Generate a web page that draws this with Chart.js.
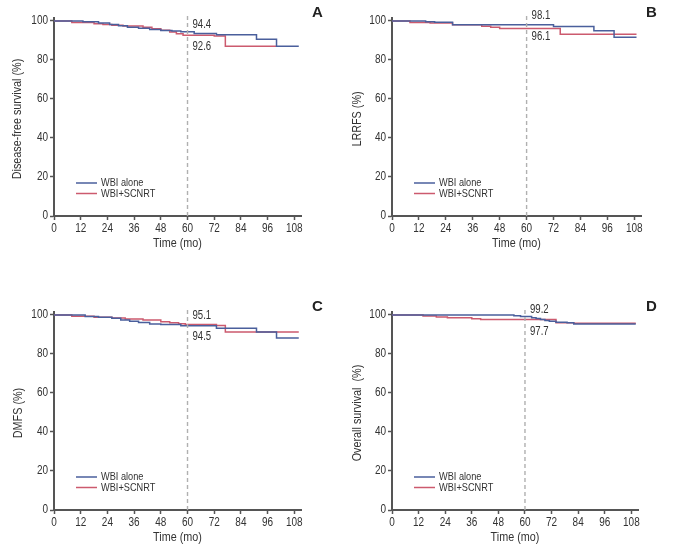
<!DOCTYPE html>
<html>
<head>
<meta charset="utf-8">
<script src="https://cdn.jsdelivr.net/npm/chart.js@4.4.1/dist/chart.umd.min.js"></script>
<style>
  body { margin: 0; background: #fff; width: 687px; height: 556px; position: relative; overflow: hidden; }
  canvas { position: absolute; }
  .tag { position: absolute; font: bold 15px "Liberation Sans", Arial, sans-serif; color: #222; }
</style>
</head>
<body>
<canvas id="cA" width="340" height="280" style="left:0;top:0"></canvas>
<canvas id="cB" width="347" height="280" style="left:340px;top:0"></canvas>
<canvas id="cC" width="340" height="280" style="left:0;top:294px"></canvas>
<canvas id="cD" width="347" height="280" style="left:340px;top:294px"></canvas>
<div class="tag" style="left:312px;top:3px">A</div>
<div class="tag" style="left:646px;top:3px">B</div>
<div class="tag" style="left:312px;top:297px">C</div>
<div class="tag" style="left:646px;top:297px">D</div>
<script>
// ---- data ----
const monthTicks = [0, 12, 24, 36, 48, 60, 72, 84, 96, 108];
const pctTicks = [0, 20, 40, 60, 80, 100];
const seriesNames = ["WBI alone", "WBI+SCNRT"];
const landmark = 60;

// A: disease-free survival
const dfsAloneT = [0, 13, 20, 25, 29, 33, 38, 43, 48, 53, 57, 63, 73, 91, 100, 110];
const dfsAloneS = [100, 99.6, 98.9, 98.2, 97.5, 96.8, 96.2, 95.6, 95.1, 94.8, 94.4, 93.6, 92.9, 90.6, 87.0, 87.0];
const dfsScnT = [0, 8, 18, 22, 26, 31, 40, 44, 48, 52, 55, 58, 72, 77, 100];
const dfsScnS = [100, 99.2, 98.6, 98.2, 97.8, 97.4, 96.8, 96.0, 95.2, 94.3, 93.4, 92.6, 92.3, 87.0, 87.0];
const dfsAt60 = ["94.4", "92.6"];

// B: LRRFS
const lrrAloneT = [0, 15, 19, 27, 72, 90, 99, 109];
const lrrAloneS = [100, 99.6, 99.3, 98.1, 97.1, 95.0, 91.6, 91.6];
const lrrScnT = [0, 8, 17, 27, 40, 44, 48, 75, 109];
const lrrScnS = [100, 99.2, 99.0, 98.1, 97.3, 96.7, 96.1, 93.2, 93.2];
const lrrAt60 = ["98.1", "96.1"];

// C: DMFS
const dmAloneT = [0, 14, 20, 26, 30, 34, 38, 43, 48, 57, 73, 91, 100, 110];
const dmAloneS = [100, 99.2, 98.8, 98.3, 97.4, 96.8, 96.1, 95.4, 95.1, 94.5, 93.2, 91.2, 88.2, 88.2];
const dmScnT = [0, 8, 18, 26, 32, 40, 48, 52, 56, 59, 73, 77, 110];
const dmScnS = [100, 99.3, 98.8, 98.4, 97.9, 97.4, 96.5, 96.0, 95.5, 95.1, 94.6, 91.3, 91.3];
const dmAt60 = ["95.1", "94.5"];

// D: overall survival
const osAloneT = [0, 55, 58, 63, 65, 67, 69, 71, 74, 79, 82, 110];
const osAloneS = [100, 99.6, 99.2, 98.6, 98.2, 97.7, 97.2, 96.7, 96.3, 96.0, 95.3, 95.3];
const osScnT = [0, 14, 20, 25, 36, 40, 74, 82, 110];
const osScnS = [100, 99.5, 99.0, 98.6, 98.1, 97.7, 96.0, 95.7, 95.7];
const osAt60 = ["99.2", "97.7"];

// ---- styles ----
const colors = ["#4a5f9c", "#cc5a6e"];
const fontFam = '"Liberation Sans", Arial, sans-serif';
const axisCol = "#555";
const squeeze = 0.8; // condensed look of the original type

function pts(t, s) {
    return t.map((x, i) => ({ x: x, y: s[i] }));
}

// draw text horizontally squeezed (the reference uses a narrow face)
function narrowText(ctx, text, x, y, align, rot) {
    ctx.save();
    ctx.translate(x, y);
    if (rot) ctx.rotate(rot);
    ctx.scale(squeeze, 1);
    ctx.textAlign = align;
    ctx.textBaseline = "middle";
    ctx.fillText(text, 0, 0);
    ctx.restore();
}

// tick labels, axis titles, dashed 60-month line, values at 60 and legend
const kmExtras = {
    id: "kmExtras",
    afterDraw(chart, args, opt) {
        const ctx = chart.ctx;
        const area = chart.chartArea;
        const xs = chart.scales.x;
        const ys = chart.scales.y;
        const px = xs.getPixelForValue(landmark);

        ctx.save();
        ctx.fillStyle = "#333";

        // tick labels
        ctx.font = "12.5px " + fontFam;
        monthTicks.forEach(v => narrowText(ctx, String(v), xs.getPixelForValue(v), area.bottom + 12.5, "center"));
        pctTicks.forEach(v => narrowText(ctx, String(v), area.left - 6, ys.getPixelForValue(v), "right"));

        // axis titles
        ctx.font = "13.5px " + fontFam;
        narrowText(ctx, "Time (mo)", (area.left + area.right) / 2, area.bottom + 27, "center");
        narrowText(ctx, opt.yTitle, area.left - opt.titleGap, (area.top + area.bottom) / 2 + 2, "center", -Math.PI / 2);

        // dashed landmark line
        ctx.strokeStyle = "#b0b0b0";
        ctx.lineWidth = 1.4;
        ctx.setLineDash([4, 3]);
        ctx.beginPath();
        ctx.moveTo(px, area.top - 2);
        ctx.lineTo(px, area.bottom);
        ctx.stroke();
        ctx.setLineDash([]);

        // values at 60 months
        ctx.font = "12px " + fontFam;
        narrowText(ctx, opt.values[0], px + 5, area.top + opt.textY[0], "left");
        narrowText(ctx, opt.values[1], px + 5, area.top + opt.textY[1], "left");

        // legend inside the plot
        ctx.font = "11.5px " + fontFam;
        ctx.lineWidth = 1.5;
        seriesNames.forEach((name, i) => {
            const y = area.bottom - 33 + i * 10.5;
            ctx.strokeStyle = colors[i];
            ctx.beginPath();
            ctx.moveTo(area.left + 22, y);
            ctx.lineTo(area.left + 43, y);
            ctx.stroke();
            narrowText(ctx, name, area.left + 47, y, "left");
        });
        ctx.restore();
    }
};

function makePanel(id, yTitle, titleGap, alone, scn, values, textY, pad) {
    new Chart(document.getElementById(id), {
        type: "line",
        data: {
            datasets: [
                { label: seriesNames[0], data: alone, borderColor: colors[0], borderWidth: 1.5, pointRadius: 0, stepped: true, fill: false },
                { label: seriesNames[1], data: scn, borderColor: colors[1], borderWidth: 1.5, pointRadius: 0, stepped: true, fill: false }
            ]
        },
        options: {
            responsive: false,
            animation: false,
            layout: { padding: pad },
            plugins: {
                legend: { display: false },
                tooltip: { enabled: false },
                kmExtras: { values: values, textY: textY, yTitle: yTitle, titleGap: titleGap }
            },
            scales: {
                x: {
                    type: "linear",
                    min: 0,
                    max: 111,
                    afterBuildTicks: s => { s.ticks = monthTicks.map(v => ({ value: v })); },
                    afterFit: s => { s.height = 38; },
                    ticks: { display: false },
                    grid: { drawOnChartArea: false, tickLength: 4, tickColor: axisCol, tickWidth: 1.5 },
                    border: { display: true, color: axisCol, width: 2 }
                },
                y: {
                    min: 0,
                    max: 101.5,
                    afterBuildTicks: s => { s.ticks = pctTicks.map(v => ({ value: v })); },
                    afterFit: s => { s.width = 48; },
                    ticks: { display: false },
                    grid: { drawOnChartArea: false, tickLength: 4, tickColor: axisCol, tickWidth: 1.5 },
                    border: { display: true, color: axisCol, width: 2 }
                }
            }
        },
        plugins: [kmExtras]
    });
}

makePanel("cA", "Disease-free survival (%)", 37, pts(dfsAloneT, dfsAloneS), pts(dfsScnT, dfsScnS), dfsAt60, [7, 29], { left: 6, top: 18, right: 39, bottom: 26 });
makePanel("cB", "LRRFS (%)", 35, pts(lrrAloneT, lrrAloneS), pts(lrrScnT, lrrScnS), lrrAt60, [-2, 19], { left: 4, top: 18, right: 46, bottom: 26 });
makePanel("cC", "DMFS (%)", 36, pts(dmAloneT, dmAloneS), pts(dmScnT, dmScnS), dmAt60, [4, 25], { left: 6, top: 18, right: 39, bottom: 26 });
makePanel("cD", "Overall survival  (%)", 35, pts(osAloneT, osAloneS), pts(osScnT, osScnS), osAt60, [-2, 20], { left: 4, top: 18, right: 49, bottom: 26 });
</script>
</body>
</html>
